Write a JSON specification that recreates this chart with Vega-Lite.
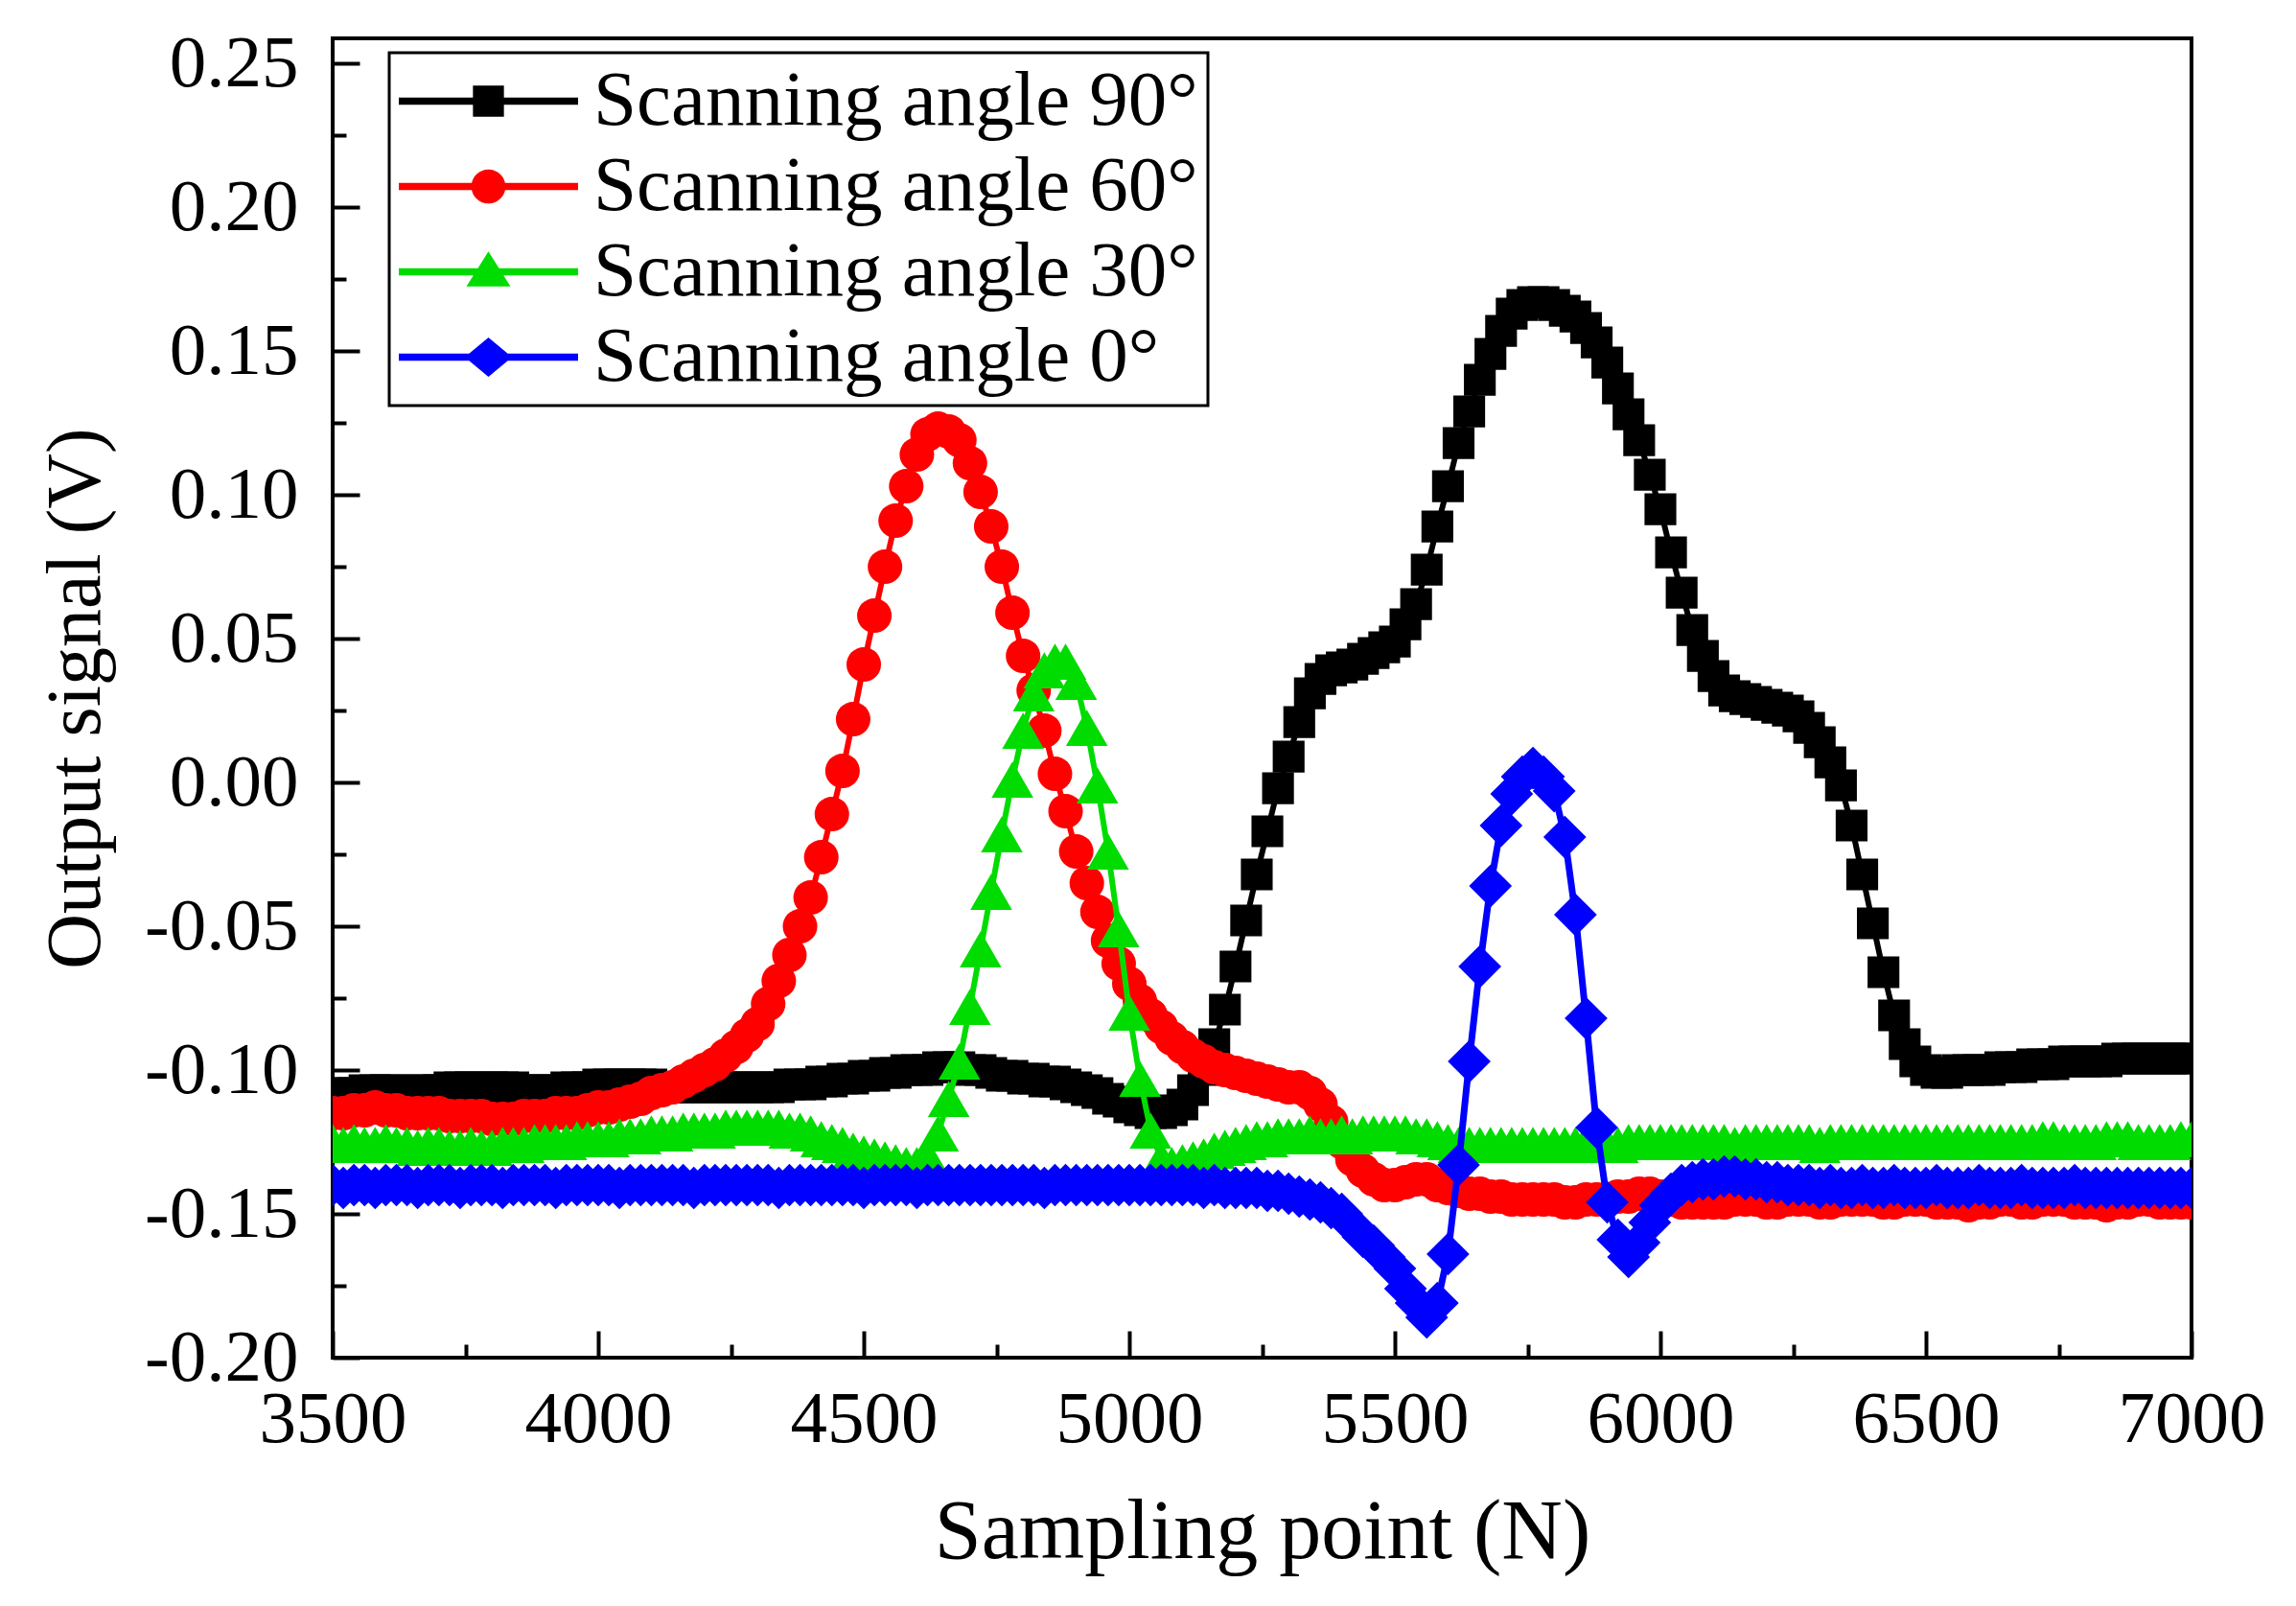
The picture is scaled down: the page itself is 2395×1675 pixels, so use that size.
{
  "$schema": "https://vega.github.io/schema/vega-lite/v6.json",
  "width": 1939,
  "height": 1376,
  "autosize": {"type": "none"},
  "padding": {"left": 347, "top": 40, "right": 109, "bottom": 259},
  "background": "white",
  "data": {"values": [
{"s":"90","x":3500,"y":-0.108},{"s":"90","x":3520,"y":-0.108},{"s":"90","x":3540,"y":-0.108},{"s":"90","x":3560,"y":-0.107},{"s":"90","x":3580,"y":-0.107},{"s":"90","x":3600,"y":-0.107},{"s":"90","x":3620,"y":-0.107},{"s":"90","x":3640,"y":-0.108},{"s":"90","x":3660,"y":-0.107},{"s":"90","x":3680,"y":-0.107},
{"s":"90","x":3700,"y":-0.107},{"s":"90","x":3720,"y":-0.106},{"s":"90","x":3740,"y":-0.106},{"s":"90","x":3760,"y":-0.106},{"s":"90","x":3780,"y":-0.106},{"s":"90","x":3800,"y":-0.106},{"s":"90","x":3820,"y":-0.106},{"s":"90","x":3840,"y":-0.106},{"s":"90","x":3860,"y":-0.107},{"s":"90","x":3880,"y":-0.107},
{"s":"90","x":3900,"y":-0.107},{"s":"90","x":3920,"y":-0.107},{"s":"90","x":3940,"y":-0.106},{"s":"90","x":3960,"y":-0.106},{"s":"90","x":3980,"y":-0.106},{"s":"90","x":4000,"y":-0.105},{"s":"90","x":4020,"y":-0.105},{"s":"90","x":4040,"y":-0.105},{"s":"90","x":4060,"y":-0.105},{"s":"90","x":4080,"y":-0.105},
{"s":"90","x":4100,"y":-0.105},{"s":"90","x":4120,"y":-0.106},{"s":"90","x":4140,"y":-0.106},{"s":"90","x":4160,"y":-0.106},{"s":"90","x":4180,"y":-0.106},{"s":"90","x":4200,"y":-0.106},{"s":"90","x":4220,"y":-0.106},{"s":"90","x":4240,"y":-0.106},{"s":"90","x":4260,"y":-0.106},{"s":"90","x":4280,"y":-0.106},
{"s":"90","x":4300,"y":-0.106},{"s":"90","x":4320,"y":-0.106},{"s":"90","x":4340,"y":-0.106},{"s":"90","x":4360,"y":-0.105},{"s":"90","x":4380,"y":-0.105},{"s":"90","x":4400,"y":-0.105},{"s":"90","x":4420,"y":-0.104},{"s":"90","x":4440,"y":-0.104},{"s":"90","x":4460,"y":-0.103},{"s":"90","x":4480,"y":-0.103},
{"s":"90","x":4500,"y":-0.102},{"s":"90","x":4520,"y":-0.102},{"s":"90","x":4540,"y":-0.101},{"s":"90","x":4560,"y":-0.101},{"s":"90","x":4580,"y":-0.100},{"s":"90","x":4600,"y":-0.100},{"s":"90","x":4620,"y":-0.100},{"s":"90","x":4640,"y":-0.099},{"s":"90","x":4660,"y":-0.099},{"s":"90","x":4680,"y":-0.099},
{"s":"90","x":4700,"y":-0.100},{"s":"90","x":4720,"y":-0.100},{"s":"90","x":4740,"y":-0.101},{"s":"90","x":4760,"y":-0.102},{"s":"90","x":4780,"y":-0.102},{"s":"90","x":4800,"y":-0.103},{"s":"90","x":4820,"y":-0.103},{"s":"90","x":4840,"y":-0.104},{"s":"90","x":4860,"y":-0.104},{"s":"90","x":4880,"y":-0.105},
{"s":"90","x":4900,"y":-0.106},{"s":"90","x":4920,"y":-0.107},{"s":"90","x":4940,"y":-0.108},{"s":"90","x":4960,"y":-0.110},{"s":"90","x":4980,"y":-0.111},{"s":"90","x":5000,"y":-0.113},{"s":"90","x":5020,"y":-0.114},{"s":"90","x":5040,"y":-0.115},{"s":"90","x":5060,"y":-0.115},{"s":"90","x":5080,"y":-0.114},
{"s":"90","x":5100,"y":-0.112},{"s":"90","x":5120,"y":-0.107},{"s":"90","x":5140,"y":-0.100},{"s":"90","x":5160,"y":-0.091},{"s":"90","x":5180,"y":-0.079},{"s":"90","x":5200,"y":-0.064},{"s":"90","x":5220,"y":-0.048},{"s":"90","x":5240,"y":-0.032},{"s":"90","x":5260,"y":-0.017},{"s":"90","x":5280,"y":-0.002},
{"s":"90","x":5300,"y":0.009},{"s":"90","x":5320,"y":0.021},{"s":"90","x":5340,"y":0.031},{"s":"90","x":5360,"y":0.036},{"s":"90","x":5380,"y":0.039},{"s":"90","x":5400,"y":0.040},{"s":"90","x":5420,"y":0.041},{"s":"90","x":5440,"y":0.043},{"s":"90","x":5460,"y":0.045},{"s":"90","x":5480,"y":0.047},
{"s":"90","x":5500,"y":0.049},{"s":"90","x":5520,"y":0.055},{"s":"90","x":5540,"y":0.062},{"s":"90","x":5560,"y":0.074},{"s":"90","x":5580,"y":0.089},{"s":"90","x":5600,"y":0.103},{"s":"90","x":5620,"y":0.118},{"s":"90","x":5640,"y":0.129},{"s":"90","x":5660,"y":0.140},{"s":"90","x":5680,"y":0.149},
{"s":"90","x":5700,"y":0.157},{"s":"90","x":5720,"y":0.163},{"s":"90","x":5740,"y":0.166},{"s":"90","x":5760,"y":0.167},{"s":"90","x":5780,"y":0.167},{"s":"90","x":5800,"y":0.166},{"s":"90","x":5820,"y":0.164},{"s":"90","x":5840,"y":0.162},{"s":"90","x":5860,"y":0.158},{"s":"90","x":5880,"y":0.153},
{"s":"90","x":5900,"y":0.146},{"s":"90","x":5920,"y":0.137},{"s":"90","x":5940,"y":0.128},{"s":"90","x":5960,"y":0.119},{"s":"90","x":5980,"y":0.107},{"s":"90","x":6000,"y":0.095},{"s":"90","x":6020,"y":0.080},{"s":"90","x":6040,"y":0.066},{"s":"90","x":6060,"y":0.053},{"s":"90","x":6080,"y":0.044},
{"s":"90","x":6100,"y":0.037},{"s":"90","x":6120,"y":0.032},{"s":"90","x":6140,"y":0.030},{"s":"90","x":6160,"y":0.029},{"s":"90","x":6180,"y":0.028},{"s":"90","x":6200,"y":0.027},{"s":"90","x":6220,"y":0.026},{"s":"90","x":6240,"y":0.025},{"s":"90","x":6260,"y":0.023},{"s":"90","x":6280,"y":0.019},
{"s":"90","x":6300,"y":0.014},{"s":"90","x":6320,"y":0.007},{"s":"90","x":6340,"y":-0.001},{"s":"90","x":6360,"y":-0.015},{"s":"90","x":6380,"y":-0.032},{"s":"90","x":6400,"y":-0.049},{"s":"90","x":6420,"y":-0.066},{"s":"90","x":6440,"y":-0.081},{"s":"90","x":6460,"y":-0.091},{"s":"90","x":6480,"y":-0.097},
{"s":"90","x":6500,"y":-0.100},{"s":"90","x":6520,"y":-0.101},{"s":"90","x":6540,"y":-0.101},{"s":"90","x":6560,"y":-0.100},{"s":"90","x":6580,"y":-0.100},{"s":"90","x":6600,"y":-0.100},{"s":"90","x":6620,"y":-0.100},{"s":"90","x":6640,"y":-0.099},{"s":"90","x":6660,"y":-0.099},{"s":"90","x":6680,"y":-0.099},
{"s":"90","x":6700,"y":-0.098},{"s":"90","x":6720,"y":-0.098},{"s":"90","x":6740,"y":-0.098},{"s":"90","x":6760,"y":-0.097},{"s":"90","x":6780,"y":-0.097},{"s":"90","x":6800,"y":-0.097},{"s":"90","x":6820,"y":-0.097},{"s":"90","x":6840,"y":-0.097},{"s":"90","x":6860,"y":-0.096},{"s":"90","x":6880,"y":-0.096},
{"s":"90","x":6900,"y":-0.096},{"s":"90","x":6920,"y":-0.096},{"s":"90","x":6940,"y":-0.096},{"s":"90","x":6960,"y":-0.096},{"s":"90","x":6980,"y":-0.096},{"s":"90","x":7000,"y":-0.096},
{"s":"60","x":3500,"y":-0.115},{"s":"60","x":3520,"y":-0.115},{"s":"60","x":3540,"y":-0.114},{"s":"60","x":3560,"y":-0.114},{"s":"60","x":3580,"y":-0.113},{"s":"60","x":3600,"y":-0.114},{"s":"60","x":3620,"y":-0.114},{"s":"60","x":3640,"y":-0.115},{"s":"60","x":3660,"y":-0.115},{"s":"60","x":3680,"y":-0.115},
{"s":"60","x":3700,"y":-0.115},{"s":"60","x":3720,"y":-0.116},{"s":"60","x":3740,"y":-0.116},{"s":"60","x":3760,"y":-0.116},{"s":"60","x":3780,"y":-0.116},{"s":"60","x":3800,"y":-0.117},{"s":"60","x":3820,"y":-0.117},{"s":"60","x":3840,"y":-0.117},{"s":"60","x":3860,"y":-0.116},{"s":"60","x":3880,"y":-0.116},
{"s":"60","x":3900,"y":-0.116},{"s":"60","x":3920,"y":-0.115},{"s":"60","x":3940,"y":-0.115},{"s":"60","x":3960,"y":-0.115},{"s":"60","x":3980,"y":-0.114},{"s":"60","x":4000,"y":-0.113},{"s":"60","x":4020,"y":-0.113},{"s":"60","x":4040,"y":-0.112},{"s":"60","x":4060,"y":-0.111},{"s":"60","x":4080,"y":-0.110},
{"s":"60","x":4100,"y":-0.108},{"s":"60","x":4120,"y":-0.107},{"s":"60","x":4140,"y":-0.106},{"s":"60","x":4160,"y":-0.104},{"s":"60","x":4180,"y":-0.102},{"s":"60","x":4200,"y":-0.100},{"s":"60","x":4220,"y":-0.098},{"s":"60","x":4240,"y":-0.095},{"s":"60","x":4260,"y":-0.092},{"s":"60","x":4280,"y":-0.088},
{"s":"60","x":4300,"y":-0.084},{"s":"60","x":4320,"y":-0.077},{"s":"60","x":4340,"y":-0.069},{"s":"60","x":4360,"y":-0.060},{"s":"60","x":4380,"y":-0.050},{"s":"60","x":4400,"y":-0.040},{"s":"60","x":4420,"y":-0.026},{"s":"60","x":4440,"y":-0.011},{"s":"60","x":4460,"y":0.004},{"s":"60","x":4480,"y":0.022},
{"s":"60","x":4500,"y":0.041},{"s":"60","x":4520,"y":0.058},{"s":"60","x":4540,"y":0.075},{"s":"60","x":4560,"y":0.091},{"s":"60","x":4580,"y":0.103},{"s":"60","x":4600,"y":0.114},{"s":"60","x":4620,"y":0.121},{"s":"60","x":4640,"y":0.123},{"s":"60","x":4660,"y":0.122},{"s":"60","x":4680,"y":0.119},
{"s":"60","x":4700,"y":0.111},{"s":"60","x":4720,"y":0.101},{"s":"60","x":4740,"y":0.089},{"s":"60","x":4760,"y":0.075},{"s":"60","x":4780,"y":0.059},{"s":"60","x":4800,"y":0.044},{"s":"60","x":4820,"y":0.032},{"s":"60","x":4840,"y":0.018},{"s":"60","x":4860,"y":0.003},{"s":"60","x":4880,"y":-0.010},
{"s":"60","x":4900,"y":-0.024},{"s":"60","x":4920,"y":-0.035},{"s":"60","x":4940,"y":-0.045},{"s":"60","x":4960,"y":-0.055},{"s":"60","x":4980,"y":-0.063},{"s":"60","x":5000,"y":-0.070},{"s":"60","x":5020,"y":-0.076},{"s":"60","x":5040,"y":-0.081},{"s":"60","x":5060,"y":-0.085},{"s":"60","x":5080,"y":-0.089},
{"s":"60","x":5100,"y":-0.092},{"s":"60","x":5120,"y":-0.095},{"s":"60","x":5140,"y":-0.097},{"s":"60","x":5160,"y":-0.099},{"s":"60","x":5180,"y":-0.100},{"s":"60","x":5200,"y":-0.101},{"s":"60","x":5220,"y":-0.102},{"s":"60","x":5240,"y":-0.103},{"s":"60","x":5260,"y":-0.104},{"s":"60","x":5280,"y":-0.105},
{"s":"60","x":5300,"y":-0.106},{"s":"60","x":5320,"y":-0.106},{"s":"60","x":5340,"y":-0.108},{"s":"60","x":5360,"y":-0.112},{"s":"60","x":5380,"y":-0.118},{"s":"60","x":5400,"y":-0.125},{"s":"60","x":5420,"y":-0.131},{"s":"60","x":5440,"y":-0.135},{"s":"60","x":5460,"y":-0.138},{"s":"60","x":5480,"y":-0.140},
{"s":"60","x":5500,"y":-0.140},{"s":"60","x":5520,"y":-0.139},{"s":"60","x":5540,"y":-0.138},{"s":"60","x":5560,"y":-0.138},{"s":"60","x":5580,"y":-0.140},{"s":"60","x":5600,"y":-0.141},{"s":"60","x":5620,"y":-0.142},{"s":"60","x":5640,"y":-0.143},{"s":"60","x":5660,"y":-0.143},{"s":"60","x":5680,"y":-0.144},
{"s":"60","x":5700,"y":-0.144},{"s":"60","x":5720,"y":-0.145},{"s":"60","x":5740,"y":-0.145},{"s":"60","x":5760,"y":-0.145},{"s":"60","x":5780,"y":-0.145},{"s":"60","x":5800,"y":-0.145},{"s":"60","x":5820,"y":-0.146},{"s":"60","x":5840,"y":-0.146},{"s":"60","x":5860,"y":-0.145},{"s":"60","x":5880,"y":-0.145},
{"s":"60","x":5900,"y":-0.145},{"s":"60","x":5920,"y":-0.144},{"s":"60","x":5940,"y":-0.144},{"s":"60","x":5960,"y":-0.143},{"s":"60","x":5980,"y":-0.143},{"s":"60","x":6000,"y":-0.144},{"s":"60","x":6020,"y":-0.145},{"s":"60","x":6040,"y":-0.146},{"s":"60","x":6060,"y":-0.146},{"s":"60","x":6080,"y":-0.146},
{"s":"60","x":6100,"y":-0.146},{"s":"60","x":6120,"y":-0.146},{"s":"60","x":6140,"y":-0.145},{"s":"60","x":6160,"y":-0.145},{"s":"60","x":6180,"y":-0.145},{"s":"60","x":6200,"y":-0.146},{"s":"60","x":6220,"y":-0.146},{"s":"60","x":6240,"y":-0.145},{"s":"60","x":6260,"y":-0.145},{"s":"60","x":6280,"y":-0.145},
{"s":"60","x":6300,"y":-0.146},{"s":"60","x":6320,"y":-0.146},{"s":"60","x":6340,"y":-0.145},{"s":"60","x":6360,"y":-0.145},{"s":"60","x":6380,"y":-0.145},{"s":"60","x":6400,"y":-0.145},{"s":"60","x":6420,"y":-0.146},{"s":"60","x":6440,"y":-0.146},{"s":"60","x":6460,"y":-0.145},{"s":"60","x":6480,"y":-0.145},
{"s":"60","x":6500,"y":-0.145},{"s":"60","x":6520,"y":-0.146},{"s":"60","x":6540,"y":-0.146},{"s":"60","x":6560,"y":-0.146},{"s":"60","x":6580,"y":-0.147},{"s":"60","x":6600,"y":-0.146},{"s":"60","x":6620,"y":-0.146},{"s":"60","x":6640,"y":-0.145},{"s":"60","x":6660,"y":-0.145},{"s":"60","x":6680,"y":-0.146},
{"s":"60","x":6700,"y":-0.146},{"s":"60","x":6720,"y":-0.145},{"s":"60","x":6740,"y":-0.145},{"s":"60","x":6760,"y":-0.145},{"s":"60","x":6780,"y":-0.146},{"s":"60","x":6800,"y":-0.146},{"s":"60","x":6820,"y":-0.146},{"s":"60","x":6840,"y":-0.147},{"s":"60","x":6860,"y":-0.146},{"s":"60","x":6880,"y":-0.146},
{"s":"60","x":6900,"y":-0.145},{"s":"60","x":6920,"y":-0.145},{"s":"60","x":6940,"y":-0.146},{"s":"60","x":6960,"y":-0.146},{"s":"60","x":6980,"y":-0.146},{"s":"60","x":7000,"y":-0.146},
{"s":"30","x":3500,"y":-0.125},{"s":"30","x":3520,"y":-0.126},{"s":"30","x":3540,"y":-0.125},{"s":"30","x":3560,"y":-0.126},{"s":"30","x":3580,"y":-0.126},{"s":"30","x":3600,"y":-0.125},{"s":"30","x":3620,"y":-0.126},{"s":"30","x":3640,"y":-0.126},{"s":"30","x":3660,"y":-0.127},{"s":"30","x":3680,"y":-0.126},
{"s":"30","x":3700,"y":-0.126},{"s":"30","x":3720,"y":-0.127},{"s":"30","x":3740,"y":-0.127},{"s":"30","x":3760,"y":-0.126},{"s":"30","x":3780,"y":-0.127},{"s":"30","x":3800,"y":-0.127},{"s":"30","x":3820,"y":-0.126},{"s":"30","x":3840,"y":-0.126},{"s":"30","x":3860,"y":-0.126},{"s":"30","x":3880,"y":-0.125},
{"s":"30","x":3900,"y":-0.125},{"s":"30","x":3920,"y":-0.125},{"s":"30","x":3940,"y":-0.125},{"s":"30","x":3960,"y":-0.124},{"s":"30","x":3980,"y":-0.124},{"s":"30","x":4000,"y":-0.124},{"s":"30","x":4020,"y":-0.124},{"s":"30","x":4040,"y":-0.123},{"s":"30","x":4060,"y":-0.123},{"s":"30","x":4080,"y":-0.123},
{"s":"30","x":4100,"y":-0.122},{"s":"30","x":4120,"y":-0.122},{"s":"30","x":4140,"y":-0.122},{"s":"30","x":4160,"y":-0.121},{"s":"30","x":4180,"y":-0.121},{"s":"30","x":4200,"y":-0.121},{"s":"30","x":4220,"y":-0.121},{"s":"30","x":4240,"y":-0.120},{"s":"30","x":4260,"y":-0.120},{"s":"30","x":4280,"y":-0.120},
{"s":"30","x":4300,"y":-0.120},{"s":"30","x":4320,"y":-0.120},{"s":"30","x":4340,"y":-0.120},{"s":"30","x":4360,"y":-0.121},{"s":"30","x":4380,"y":-0.121},{"s":"30","x":4400,"y":-0.122},{"s":"30","x":4420,"y":-0.124},{"s":"30","x":4440,"y":-0.125},{"s":"30","x":4460,"y":-0.126},{"s":"30","x":4480,"y":-0.128},
{"s":"30","x":4500,"y":-0.129},{"s":"30","x":4520,"y":-0.130},{"s":"30","x":4540,"y":-0.131},{"s":"30","x":4560,"y":-0.132},{"s":"30","x":4580,"y":-0.133},{"s":"30","x":4600,"y":-0.133},{"s":"30","x":4620,"y":-0.130},{"s":"30","x":4640,"y":-0.122},{"s":"30","x":4660,"y":-0.110},{"s":"30","x":4680,"y":-0.097},
{"s":"30","x":4700,"y":-0.078},{"s":"30","x":4720,"y":-0.058},{"s":"30","x":4740,"y":-0.038},{"s":"30","x":4760,"y":-0.018},{"s":"30","x":4780,"y":0.001},{"s":"30","x":4800,"y":0.018},{"s":"30","x":4820,"y":0.031},{"s":"30","x":4840,"y":0.039},{"s":"30","x":4860,"y":0.042},{"s":"30","x":4880,"y":0.042},
{"s":"30","x":4900,"y":0.035},{"s":"30","x":4920,"y":0.019},{"s":"30","x":4940,"y":-0.001},{"s":"30","x":4960,"y":-0.024},{"s":"30","x":4980,"y":-0.051},{"s":"30","x":5000,"y":-0.080},{"s":"30","x":5020,"y":-0.103},{"s":"30","x":5040,"y":-0.121},{"s":"30","x":5060,"y":-0.131},{"s":"30","x":5080,"y":-0.133},
{"s":"30","x":5100,"y":-0.132},{"s":"30","x":5120,"y":-0.131},{"s":"30","x":5140,"y":-0.130},{"s":"30","x":5160,"y":-0.128},{"s":"30","x":5180,"y":-0.127},{"s":"30","x":5200,"y":-0.126},{"s":"30","x":5220,"y":-0.125},{"s":"30","x":5240,"y":-0.124},{"s":"30","x":5260,"y":-0.124},{"s":"30","x":5280,"y":-0.123},
{"s":"30","x":5300,"y":-0.123},{"s":"30","x":5320,"y":-0.123},{"s":"30","x":5340,"y":-0.122},{"s":"30","x":5360,"y":-0.123},{"s":"30","x":5380,"y":-0.123},{"s":"30","x":5400,"y":-0.122},{"s":"30","x":5420,"y":-0.123},{"s":"30","x":5440,"y":-0.122},{"s":"30","x":5460,"y":-0.122},{"s":"30","x":5480,"y":-0.122},
{"s":"30","x":5500,"y":-0.122},{"s":"30","x":5520,"y":-0.122},{"s":"30","x":5540,"y":-0.123},{"s":"30","x":5560,"y":-0.123},{"s":"30","x":5580,"y":-0.124},{"s":"30","x":5600,"y":-0.125},{"s":"30","x":5620,"y":-0.126},{"s":"30","x":5640,"y":-0.126},{"s":"30","x":5660,"y":-0.126},{"s":"30","x":5680,"y":-0.126},
{"s":"30","x":5700,"y":-0.126},{"s":"30","x":5720,"y":-0.126},{"s":"30","x":5740,"y":-0.126},{"s":"30","x":5760,"y":-0.126},{"s":"30","x":5780,"y":-0.126},{"s":"30","x":5800,"y":-0.126},{"s":"30","x":5820,"y":-0.126},{"s":"30","x":5840,"y":-0.126},{"s":"30","x":5860,"y":-0.125},{"s":"30","x":5880,"y":-0.126},
{"s":"30","x":5900,"y":-0.126},{"s":"30","x":5920,"y":-0.126},{"s":"30","x":5940,"y":-0.125},{"s":"30","x":5960,"y":-0.125},{"s":"30","x":5980,"y":-0.125},{"s":"30","x":6000,"y":-0.125},{"s":"30","x":6020,"y":-0.125},{"s":"30","x":6040,"y":-0.125},{"s":"30","x":6060,"y":-0.125},{"s":"30","x":6080,"y":-0.125},
{"s":"30","x":6100,"y":-0.125},{"s":"30","x":6120,"y":-0.125},{"s":"30","x":6140,"y":-0.126},{"s":"30","x":6160,"y":-0.125},{"s":"30","x":6180,"y":-0.125},{"s":"30","x":6200,"y":-0.125},{"s":"30","x":6220,"y":-0.125},{"s":"30","x":6240,"y":-0.125},{"s":"30","x":6260,"y":-0.125},{"s":"30","x":6280,"y":-0.125},
{"s":"30","x":6300,"y":-0.126},{"s":"30","x":6320,"y":-0.125},{"s":"30","x":6340,"y":-0.125},{"s":"30","x":6360,"y":-0.125},{"s":"30","x":6380,"y":-0.125},{"s":"30","x":6400,"y":-0.125},{"s":"30","x":6420,"y":-0.125},{"s":"30","x":6440,"y":-0.125},{"s":"30","x":6460,"y":-0.125},{"s":"30","x":6480,"y":-0.125},
{"s":"30","x":6500,"y":-0.125},{"s":"30","x":6520,"y":-0.125},{"s":"30","x":6540,"y":-0.125},{"s":"30","x":6560,"y":-0.125},{"s":"30","x":6580,"y":-0.125},{"s":"30","x":6600,"y":-0.125},{"s":"30","x":6620,"y":-0.125},{"s":"30","x":6640,"y":-0.125},{"s":"30","x":6660,"y":-0.125},{"s":"30","x":6680,"y":-0.125},
{"s":"30","x":6700,"y":-0.125},{"s":"30","x":6720,"y":-0.124},{"s":"30","x":6740,"y":-0.124},{"s":"30","x":6760,"y":-0.125},{"s":"30","x":6780,"y":-0.125},{"s":"30","x":6800,"y":-0.125},{"s":"30","x":6820,"y":-0.125},{"s":"30","x":6840,"y":-0.124},{"s":"30","x":6860,"y":-0.124},{"s":"30","x":6880,"y":-0.124},
{"s":"30","x":6900,"y":-0.125},{"s":"30","x":6920,"y":-0.125},{"s":"30","x":6940,"y":-0.125},{"s":"30","x":6960,"y":-0.125},{"s":"30","x":6980,"y":-0.124},{"s":"30","x":7000,"y":-0.124},
{"s":"0","x":3500,"y":-0.140},{"s":"0","x":3520,"y":-0.141},{"s":"0","x":3540,"y":-0.140},{"s":"0","x":3560,"y":-0.140},{"s":"0","x":3580,"y":-0.141},{"s":"0","x":3600,"y":-0.140},{"s":"0","x":3620,"y":-0.140},{"s":"0","x":3640,"y":-0.140},{"s":"0","x":3660,"y":-0.141},{"s":"0","x":3680,"y":-0.140},
{"s":"0","x":3700,"y":-0.140},{"s":"0","x":3720,"y":-0.140},{"s":"0","x":3740,"y":-0.141},{"s":"0","x":3760,"y":-0.140},{"s":"0","x":3780,"y":-0.140},{"s":"0","x":3800,"y":-0.140},{"s":"0","x":3820,"y":-0.141},{"s":"0","x":3840,"y":-0.140},{"s":"0","x":3860,"y":-0.140},{"s":"0","x":3880,"y":-0.140},
{"s":"0","x":3900,"y":-0.140},{"s":"0","x":3920,"y":-0.141},{"s":"0","x":3940,"y":-0.140},{"s":"0","x":3960,"y":-0.140},{"s":"0","x":3980,"y":-0.140},{"s":"0","x":4000,"y":-0.140},{"s":"0","x":4020,"y":-0.140},{"s":"0","x":4040,"y":-0.141},{"s":"0","x":4060,"y":-0.140},{"s":"0","x":4080,"y":-0.140},
{"s":"0","x":4100,"y":-0.140},{"s":"0","x":4120,"y":-0.140},{"s":"0","x":4140,"y":-0.140},{"s":"0","x":4160,"y":-0.140},{"s":"0","x":4180,"y":-0.141},{"s":"0","x":4200,"y":-0.140},{"s":"0","x":4220,"y":-0.140},{"s":"0","x":4240,"y":-0.140},{"s":"0","x":4260,"y":-0.140},{"s":"0","x":4280,"y":-0.140},
{"s":"0","x":4300,"y":-0.140},{"s":"0","x":4320,"y":-0.140},{"s":"0","x":4340,"y":-0.141},{"s":"0","x":4360,"y":-0.140},{"s":"0","x":4380,"y":-0.140},{"s":"0","x":4400,"y":-0.140},{"s":"0","x":4420,"y":-0.140},{"s":"0","x":4440,"y":-0.140},{"s":"0","x":4460,"y":-0.140},{"s":"0","x":4480,"y":-0.140},
{"s":"0","x":4500,"y":-0.141},{"s":"0","x":4520,"y":-0.140},{"s":"0","x":4540,"y":-0.140},{"s":"0","x":4560,"y":-0.140},{"s":"0","x":4580,"y":-0.140},{"s":"0","x":4600,"y":-0.141},{"s":"0","x":4620,"y":-0.140},{"s":"0","x":4640,"y":-0.140},{"s":"0","x":4660,"y":-0.140},{"s":"0","x":4680,"y":-0.140},
{"s":"0","x":4700,"y":-0.140},{"s":"0","x":4720,"y":-0.140},{"s":"0","x":4740,"y":-0.140},{"s":"0","x":4760,"y":-0.140},{"s":"0","x":4780,"y":-0.140},{"s":"0","x":4800,"y":-0.140},{"s":"0","x":4820,"y":-0.140},{"s":"0","x":4840,"y":-0.141},{"s":"0","x":4860,"y":-0.140},{"s":"0","x":4880,"y":-0.140},
{"s":"0","x":4900,"y":-0.140},{"s":"0","x":4920,"y":-0.140},{"s":"0","x":4940,"y":-0.140},{"s":"0","x":4960,"y":-0.140},{"s":"0","x":4980,"y":-0.140},{"s":"0","x":5000,"y":-0.140},{"s":"0","x":5020,"y":-0.140},{"s":"0","x":5040,"y":-0.140},{"s":"0","x":5060,"y":-0.140},{"s":"0","x":5080,"y":-0.140},
{"s":"0","x":5100,"y":-0.140},{"s":"0","x":5120,"y":-0.140},{"s":"0","x":5140,"y":-0.141},{"s":"0","x":5160,"y":-0.140},{"s":"0","x":5180,"y":-0.141},{"s":"0","x":5200,"y":-0.141},{"s":"0","x":5220,"y":-0.141},{"s":"0","x":5240,"y":-0.141},{"s":"0","x":5260,"y":-0.142},{"s":"0","x":5280,"y":-0.142},
{"s":"0","x":5300,"y":-0.143},{"s":"0","x":5320,"y":-0.144},{"s":"0","x":5340,"y":-0.145},{"s":"0","x":5360,"y":-0.146},{"s":"0","x":5380,"y":-0.148},{"s":"0","x":5400,"y":-0.150},{"s":"0","x":5420,"y":-0.154},{"s":"0","x":5440,"y":-0.158},{"s":"0","x":5460,"y":-0.161},{"s":"0","x":5480,"y":-0.165},
{"s":"0","x":5500,"y":-0.169},{"s":"0","x":5520,"y":-0.176},{"s":"0","x":5540,"y":-0.181},{"s":"0","x":5560,"y":-0.186},{"s":"0","x":5580,"y":-0.181},{"s":"0","x":5600,"y":-0.164},{"s":"0","x":5620,"y":-0.133},{"s":"0","x":5640,"y":-0.097},{"s":"0","x":5660,"y":-0.064},{"s":"0","x":5680,"y":-0.036},
{"s":"0","x":5700,"y":-0.015},{"s":"0","x":5720,"y":-0.004},{"s":"0","x":5740,"y":0.002},{"s":"0","x":5760,"y":0.005},{"s":"0","x":5780,"y":0.002},{"s":"0","x":5800,"y":-0.003},{"s":"0","x":5820,"y":-0.019},{"s":"0","x":5840,"y":-0.046},{"s":"0","x":5860,"y":-0.082},{"s":"0","x":5880,"y":-0.120},
{"s":"0","x":5900,"y":-0.146},{"s":"0","x":5920,"y":-0.159},{"s":"0","x":5940,"y":-0.165},{"s":"0","x":5960,"y":-0.160},{"s":"0","x":5980,"y":-0.153},{"s":"0","x":6000,"y":-0.147},{"s":"0","x":6020,"y":-0.143},{"s":"0","x":6040,"y":-0.140},{"s":"0","x":6060,"y":-0.139},{"s":"0","x":6080,"y":-0.138},
{"s":"0","x":6100,"y":-0.138},{"s":"0","x":6120,"y":-0.137},{"s":"0","x":6140,"y":-0.137},{"s":"0","x":6160,"y":-0.138},{"s":"0","x":6180,"y":-0.138},{"s":"0","x":6200,"y":-0.139},{"s":"0","x":6220,"y":-0.139},{"s":"0","x":6240,"y":-0.140},{"s":"0","x":6260,"y":-0.140},{"s":"0","x":6280,"y":-0.140},
{"s":"0","x":6300,"y":-0.141},{"s":"0","x":6320,"y":-0.140},{"s":"0","x":6340,"y":-0.141},{"s":"0","x":6360,"y":-0.141},{"s":"0","x":6380,"y":-0.140},{"s":"0","x":6400,"y":-0.141},{"s":"0","x":6420,"y":-0.141},{"s":"0","x":6440,"y":-0.140},{"s":"0","x":6460,"y":-0.141},{"s":"0","x":6480,"y":-0.141},
{"s":"0","x":6500,"y":-0.141},{"s":"0","x":6520,"y":-0.140},{"s":"0","x":6540,"y":-0.141},{"s":"0","x":6560,"y":-0.141},{"s":"0","x":6580,"y":-0.141},{"s":"0","x":6600,"y":-0.140},{"s":"0","x":6620,"y":-0.141},{"s":"0","x":6640,"y":-0.141},{"s":"0","x":6660,"y":-0.141},{"s":"0","x":6680,"y":-0.140},
{"s":"0","x":6700,"y":-0.141},{"s":"0","x":6720,"y":-0.141},{"s":"0","x":6740,"y":-0.141},{"s":"0","x":6760,"y":-0.141},{"s":"0","x":6780,"y":-0.140},{"s":"0","x":6800,"y":-0.141},{"s":"0","x":6820,"y":-0.141},{"s":"0","x":6840,"y":-0.141},{"s":"0","x":6860,"y":-0.141},{"s":"0","x":6880,"y":-0.141},
{"s":"0","x":6900,"y":-0.141},{"s":"0","x":6920,"y":-0.141},{"s":"0","x":6940,"y":-0.141},{"s":"0","x":6960,"y":-0.141},{"s":"0","x":6980,"y":-0.141},{"s":"0","x":7000,"y":-0.141}
  ]},
  "layer": [
    {
      "transform": [{"filter": "datum.s == '90'"}],
      "mark": {"type": "line", "color": "#000000", "strokeWidth": 6, "clip": true},
      "encoding": {
        "x": {"field": "x", "type": "quantitative", "scale": {"domain": [3500, 7000], "nice": false, "zero": false},
          "axis": {"orient": "bottom", "values": [3500, 4000, 4500, 5000, 5500, 6000, 6500, 7000], "format": "d",
            "tickSize": -28, "tickWidth": 4, "labelFontSize": 77, "labelPadding": 54, "labelFlush": false, "labelOverlap": false,
            "domain": false, "grid": false, "title": "Sampling point (N)", "titleFontSize": 88, "titleY": 208, "titleBaseline": "alphabetic"}},
        "y": {"field": "y", "type": "quantitative", "scale": {"domain": [-0.2, 0.2587], "nice": false, "zero": false},
          "axis": {"orient": "left", "values": [-0.2, -0.15, -0.1, -0.05, 0, 0.05, 0.1, 0.15, 0.2, 0.25],
            "labelExpr": "(datum.value < 0 ? '-' : '') + format(abs(datum.value), '.2f')",
            "tickSize": -28, "tickWidth": 4, "labelFontSize": 77, "labelPadding": 64, "labelFlush": false, "labelOverlap": false,
            "domain": false, "grid": false, "title": "Output signal (V)", "titleFontSize": 80, "titleX": -268, "titleY": 688, "titleBaseline": "middle", "titleAlign": "center"}}
      }
    },
    {
      "transform": [{"filter": "datum.s == '90'"}],
      "mark": {"type": "point", "shape": "square", "filled": true, "color": "#000000", "size": 1100, "opacity": 1, "clip": true},
      "encoding": {
        "x": {"field": "x", "type": "quantitative", "scale": {"domain": [3500, 7000], "nice": false, "zero": false},
          "axis": {"orient": "bottom", "values": [3750, 4250, 4750, 5250, 5750, 6250, 6750], "tickSize": -14, "tickWidth": 4,
            "labels": false, "domain": false, "grid": false, "title": null}},
        "y": {"field": "y", "type": "quantitative", "scale": {"domain": [-0.2, 0.2587], "nice": false, "zero": false},
          "axis": {"orient": "left", "values": [-0.175, -0.125, -0.075, -0.025, 0.025, 0.075, 0.125, 0.175, 0.225], "tickSize": -14, "tickWidth": 4,
            "labels": false, "domain": false, "grid": false, "title": null}}
      }
    },
    {
      "transform": [{"filter": "datum.s == '60'"}],
      "mark": {"type": "line", "color": "#ff0000", "strokeWidth": 6, "clip": true},
      "encoding": {
        "x": {"field": "x", "type": "quantitative", "axis": null},
        "y": {"field": "y", "type": "quantitative", "axis": null}
      }
    },
    {
      "transform": [{"filter": "datum.s == '60'"}],
      "mark": {"type": "point", "shape": "circle", "filled": true, "color": "#ff0000", "size": 1300, "opacity": 1, "clip": true},
      "encoding": {
        "x": {"field": "x", "type": "quantitative", "axis": null},
        "y": {"field": "y", "type": "quantitative", "axis": null}
      }
    },
    {
      "transform": [{"filter": "datum.s == '30'"}],
      "mark": {"type": "line", "color": "#00dc00", "strokeWidth": 6, "clip": true},
      "encoding": {
        "x": {"field": "x", "type": "quantitative", "axis": null},
        "y": {"field": "y", "type": "quantitative", "axis": null}
      }
    },
    {
      "transform": [{"filter": "datum.s == '30'"}],
      "mark": {"type": "point", "shape": "triangle-up", "filled": true, "color": "#00dc00", "size": 1900, "opacity": 1, "clip": true},
      "encoding": {
        "x": {"field": "x", "type": "quantitative", "axis": null},
        "y": {"field": "y", "type": "quantitative", "axis": null}
      }
    },
    {
      "transform": [{"filter": "datum.s == '0'"}],
      "mark": {"type": "line", "color": "#0000ff", "strokeWidth": 7, "clip": true},
      "encoding": {
        "x": {"field": "x", "type": "quantitative", "axis": null},
        "y": {"field": "y", "type": "quantitative", "axis": null}
      }
    },
    {
      "transform": [{"filter": "datum.s == '0'"}],
      "mark": {"type": "point", "shape": "diamond", "filled": true, "color": "#0000ff", "size": 2000, "opacity": 1, "clip": true},
      "encoding": {
        "x": {"field": "x", "type": "quantitative", "axis": null},
        "y": {"field": "y", "type": "quantitative", "axis": null}
      }
    },
    {
      "transform": [{"filter": "datum.x < 0"}],
      "mark": {"type": "point", "filled": true, "opacity": 1},
      "encoding": {
        "color": {"field": "s", "type": "nominal",
          "scale": {"domain": ["90", "60", "30", "0"], "range": ["#000000", "#ff0000", "#00dc00", "#0000ff"]},
          "legend": {"title": null, "orient": "none", "legendX": 59, "legendY": 15,
            "labelExpr": "'Scanning angle ' + datum.label + '°'", "labelFontSize": 81, "labelLimit": 2000,
            "symbolSize": 1156, "symbolOffset": 53, "labelOffset": 69, "symbolStrokeWidth": 0, "rowPadding": 7}},
        "shape": {"field": "s", "type": "nominal",
          "scale": {"domain": ["90", "60", "30", "0"], "range": [
            "M-5.5,-0.22H5.5V0.22H-5.5ZM-0.95,-0.95H0.95V0.95H-0.95Z",
            "M-5.5,-0.22H5.5V0.22H-5.5ZM-1.05,0A1.05,1.05 0 1,1 1.05,0A1.05,1.05 0 1,1 -1.05,0Z",
            "M-5.5,-0.22H5.5V0.22H-5.5ZM0,-1.25L1.35,0.9L-1.35,0.9Z",
            "M-5.5,-0.22H5.5V0.22H-5.5ZM0,-1.2L1.45,0L0,1.2L-1.45,0Z"]}}
      }
    }
  ],
  "resolve": {"axis": {"x": "independent", "y": "independent"}},
  "config": {
    "view": {"stroke": "#000000", "strokeWidth": 4},
    "axis": {"labelFont": "Liberation Serif", "titleFont": "Liberation Serif", "labelColor": "#000000", "titleColor": "#000000",
      "tickColor": "#000000", "titleFontWeight": "normal"},
    "legend": {"labelFont": "Liberation Serif", "labelColor": "#000000", "strokeColor": "#000000", "strokeWidth": 3,
      "fillColor": "#ffffff", "padding": 10}
  }
}
